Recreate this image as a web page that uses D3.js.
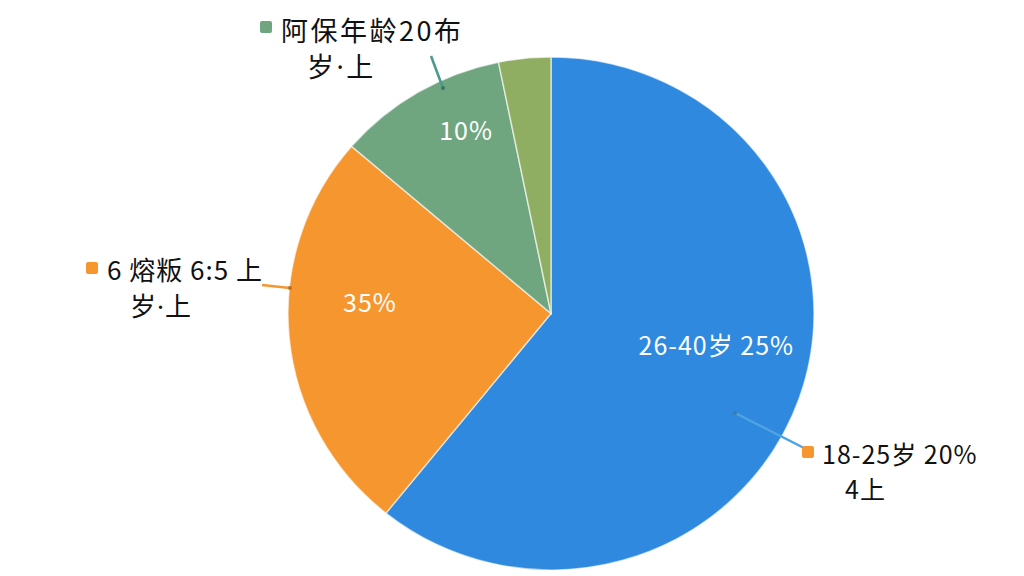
<!DOCTYPE html>
<html><head><meta charset="utf-8">
<script src="https://cdn.jsdelivr.net/npm/d3@7"></script>
<style>
html,body{margin:0;padding:0;background:#fff;}
svg{display:block;font-family:"Noto Sans CJK SC","Noto Sans",sans-serif;}
</style></head>
<body>
<svg id="chart" width="1024" height="576"></svg>
<script>
// Data
const categories = ["26-40岁", "18-25岁", "41-60岁", "60岁以上"];
const values = [60.8, 25.5, 10.5, 3.2];
const sliceColors = ["#2E89DF", "#F6962F", "#6FA67F", "#8FAE62"];
const innerLabels = ["26-40岁 25%", "35%", "10%", ""];
const calloutLines = [
  ["18-25岁 20%", "4上"],
  ["6 熔粄 6:5 上", "岁·上"],
  ["阿保年龄20布", "岁·上"],
  []
];

const svg = d3.select("#chart");
const cx = 551, cy = 313.5, r = 263, ry = 256.5;

const pie = d3.pie().sort(null).value(d => d).startAngle(0).endAngle(2 * Math.PI);
const arcs = pie(values);
const arc = d3.arc().innerRadius(0).outerRadius(r);

const g = svg.append("g").attr("transform", `translate(${cx},${cy}) scale(1,${ry / r})`);
g.selectAll("path.slice").data(arcs).enter().append("path")
  .attr("class", "slice")
  .attr("d", arc)
  .attr("fill", (d, i) => sliceColors[i])
  .attr("stroke", "rgba(255,255,255,0.6)")
  .attr("stroke-width", 1.5);

function pt(a, k) {
  return [cx + Math.sin(a) * r * k, cy - Math.cos(a) * ry * k];
}

// write text, rendering the middle dot narrow (Latin font)
function addText(sel, str) {
  const parts = str.split("·");
  parts.forEach((p, j) => {
    if (j > 0) sel.append("tspan").attr("font-family", "'Noto Sans', sans-serif").text("·");
    sel.append("tspan").text(p);
  });
}

const innerLayout = [
  { da: -0.15, k: 0.64 },
  { da: 0.16, k: 0.69 },
  { da: 0.11, k: 0.79 },
  null
];
arcs.forEach((d, i) => {
  if (!innerLabels[i]) return;
  const L = innerLayout[i];
  const mid = (d.startAngle + d.endAngle) / 2 + L.da;
  const [x, y] = pt(mid, L.k);
  svg.append("text").attr("x", x).attr("y", y)
    .attr("text-anchor", "middle").attr("dominant-baseline", "central")
    .attr("fill", "#fff").attr("font-size", 25).attr("letter-spacing", 1)
    .text(innerLabels[i]);
});

const callLayout = [
  { from: [735, 413], to: [804, 448], mk: [808, 452], mkColor: "#F6962F", lineColor: "#4FA3E0",
    tx: 822, ty: 464, tx2: 845, ty2: 499, size: 25, ls: 1 },
  { from: [290, 288], to: [262, 285], mk: [92, 268], mkColor: "#F6962F", lineColor: "#F6962F",
    tx: 107, ty: 280, tx2: 130, ty2: 316, size: 26, ls: 1 },
  { from: [443, 88], to: [431, 56], mk: [266, 27], mkColor: "#6FA67F", lineColor: "#4B9A88",
    tx: 281, ty: 41, tx2: 307, ty2: 77, size: 27, ls: 2.5 },
  null
];
calloutLines.forEach((lines, i) => {
  const L = callLayout[i];
  if (!L) return;
  svg.append("line")
    .attr("x1", L.from[0]).attr("y1", L.from[1]).attr("x2", L.to[0]).attr("y2", L.to[1])
    .attr("stroke", L.lineColor).attr("stroke-width", 2.5);
  svg.append("circle").attr("cx", L.from[0]).attr("cy", L.from[1]).attr("r", 2)
    .attr("fill", d3.color(L.lineColor).darker(0.8));
  svg.append("rect").attr("x", L.mk[0] - 6).attr("y", L.mk[1] - 6)
    .attr("width", 12).attr("height", 12).attr("rx", 2).attr("fill", L.mkColor);
  const t1 = svg.append("text").attr("x", L.tx).attr("y", L.ty)
    .attr("fill", "#111").attr("font-size", L.size).attr("letter-spacing", L.ls);
  addText(t1, lines[0]);
  const t2 = svg.append("text").attr("x", L.tx2).attr("y", L.ty2)
    .attr("fill", "#111").attr("font-size", L.size).attr("letter-spacing", L.ls);
  addText(t2, lines[1]);
});
</script>
</body></html>
